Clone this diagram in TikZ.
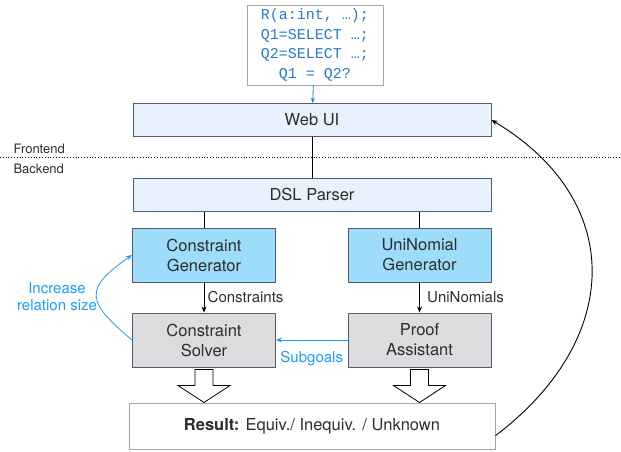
\documentclass[tikz,border=0pt]{standalone}
\usepackage{fontspec}
\setmainfont{TeX Gyre Heros}
\setmonofont{Liberation Mono}
\usetikzlibrary{arrows.meta}
\usetikzlibrary{calc}

\definecolor{codeblue}{RGB}{40,120,205}
\definecolor{loopblue}{RGB}{30,155,250}
\definecolor{boxline}{RGB}{80,95,115}
\definecolor{uifill}{RGB}{232,242,252}
\definecolor{genfill}{RGB}{157,220,250}
\definecolor{solvefill}{RGB}{220,220,222}
\definecolor{txt}{RGB}{45,45,45}

\begin{document}
\begin{tikzpicture}[x=1pt, y=-1pt, font=\fontsize{16.5}{20}\selectfont, text=txt,
		layer/.style={draw=boxline, line width=1pt, fill=uifill, minimum width=358pt, minimum height=33pt, inner sep=0pt},
		stage/.style={draw=boxline, line width=1pt, minimum width=143pt, minimum height=54pt, inner sep=0pt, align=center},
		edgelabel/.style={font=\fontsize{15}{17}\selectfont},
		flow/.style={-{Stealth[length=6pt,width=5pt]}, line width=0.8pt},
		loop/.style={flow, draw=loopblue}]
		\useasboundingbox (0,0) rectangle (621,451);

		% input query
		\node[draw=gray!70, line width=1pt, fill=white, align=center, text=codeblue, font=\ttfamily\fontsize{15}{19.5}\selectfont, minimum width=136pt, minimum height=80pt, inner sep=0pt] (query) at (315,45) {R(a:int, …);\\Q1=SELECT …;\\Q2=SELECT …;\\Q1 = Q2?};

		\node[layer] (web) at (312,120) {Web UI};
		\node[layer] (dsl) at (312,194.5) {DSL Parser};

		% frontend / backend split
		\coordinate (split_l) at (0,157);
		\coordinate (split_r) at (621,157);
		\draw[dotted, line width=0.8pt] (split_l) -- (split_r);
		\node[anchor=base west, font=\fontsize{13}{15}\selectfont] (fe) at (10,153) {Frontend};
		\node[anchor=base west, font=\fontsize{13}{15}\selectfont] (be) at (10,173) {Backend};

		\node[stage, fill=genfill] (cgen) at (204,255) {Constraint\\Generator};
		\node[stage, fill=genfill] (ugen) at (419.5,255) {UniNomial\\Generator};
		\node[stage, fill=solvefill] (csol) at (204,340) {Constraint\\Solver};
		\node[stage, fill=solvefill] (proof) at (419.5,340) {Proof\\Assistant};

		\node[draw=gray!70, line width=1pt, fill=white, minimum width=366pt, minimum height=46pt] (res) at (312,426) {\textbf{Result:} Equiv./ Inequiv. / Unknown};

		\draw[-{Stealth[length=5pt,width=4pt]}, line width=0.8pt, draw=codeblue] (query) -- (web);
		\draw[line width=0.8pt] (web) -- (dsl);
		\draw[line width=0.8pt] (dsl.south -| cgen) -- (cgen);
		\draw[line width=0.8pt] (dsl.south -| ugen) -- (ugen);
		\draw[flow] (cgen) -- node[right, edgelabel] {Constraints} (csol);
		\draw[flow] (ugen) -- node[right, xshift=4pt, edgelabel] {UniNomials} (proof);
		\draw[loop] (proof) -- node[below, yshift=-8pt, text=loopblue, edgelabel] {Subgoals} (csol);
		\draw[loop] (csol.west) to[out=140, in=215, looseness=1.8] (cgen.west);
		\node[text=loopblue, align=center, edgelabel] (grow) at (57,297) {Increase\\relation size};

		% hollow arrows down to the result
		\foreach \n in {csol, proof}
			\draw[line width=0.8pt, fill=white] ($(\n.south)+(-9,2)$) -- ($(\n.south)+(9,2)$) -- ($(\n.south)+(9,18)$) -- ($(\n.south)+(26,18)$)
				-- ($(\n.south)+(0,35)$) -- ($(\n.south)+(-26,18)$) -- ($(\n.south)+(-9,18)$) -- cycle;

		\draw[flow, line width=0.9pt] (res.-3) .. controls +(128,-97) and +(134,80) .. (web.east);
	\end{tikzpicture}
\end{document}
